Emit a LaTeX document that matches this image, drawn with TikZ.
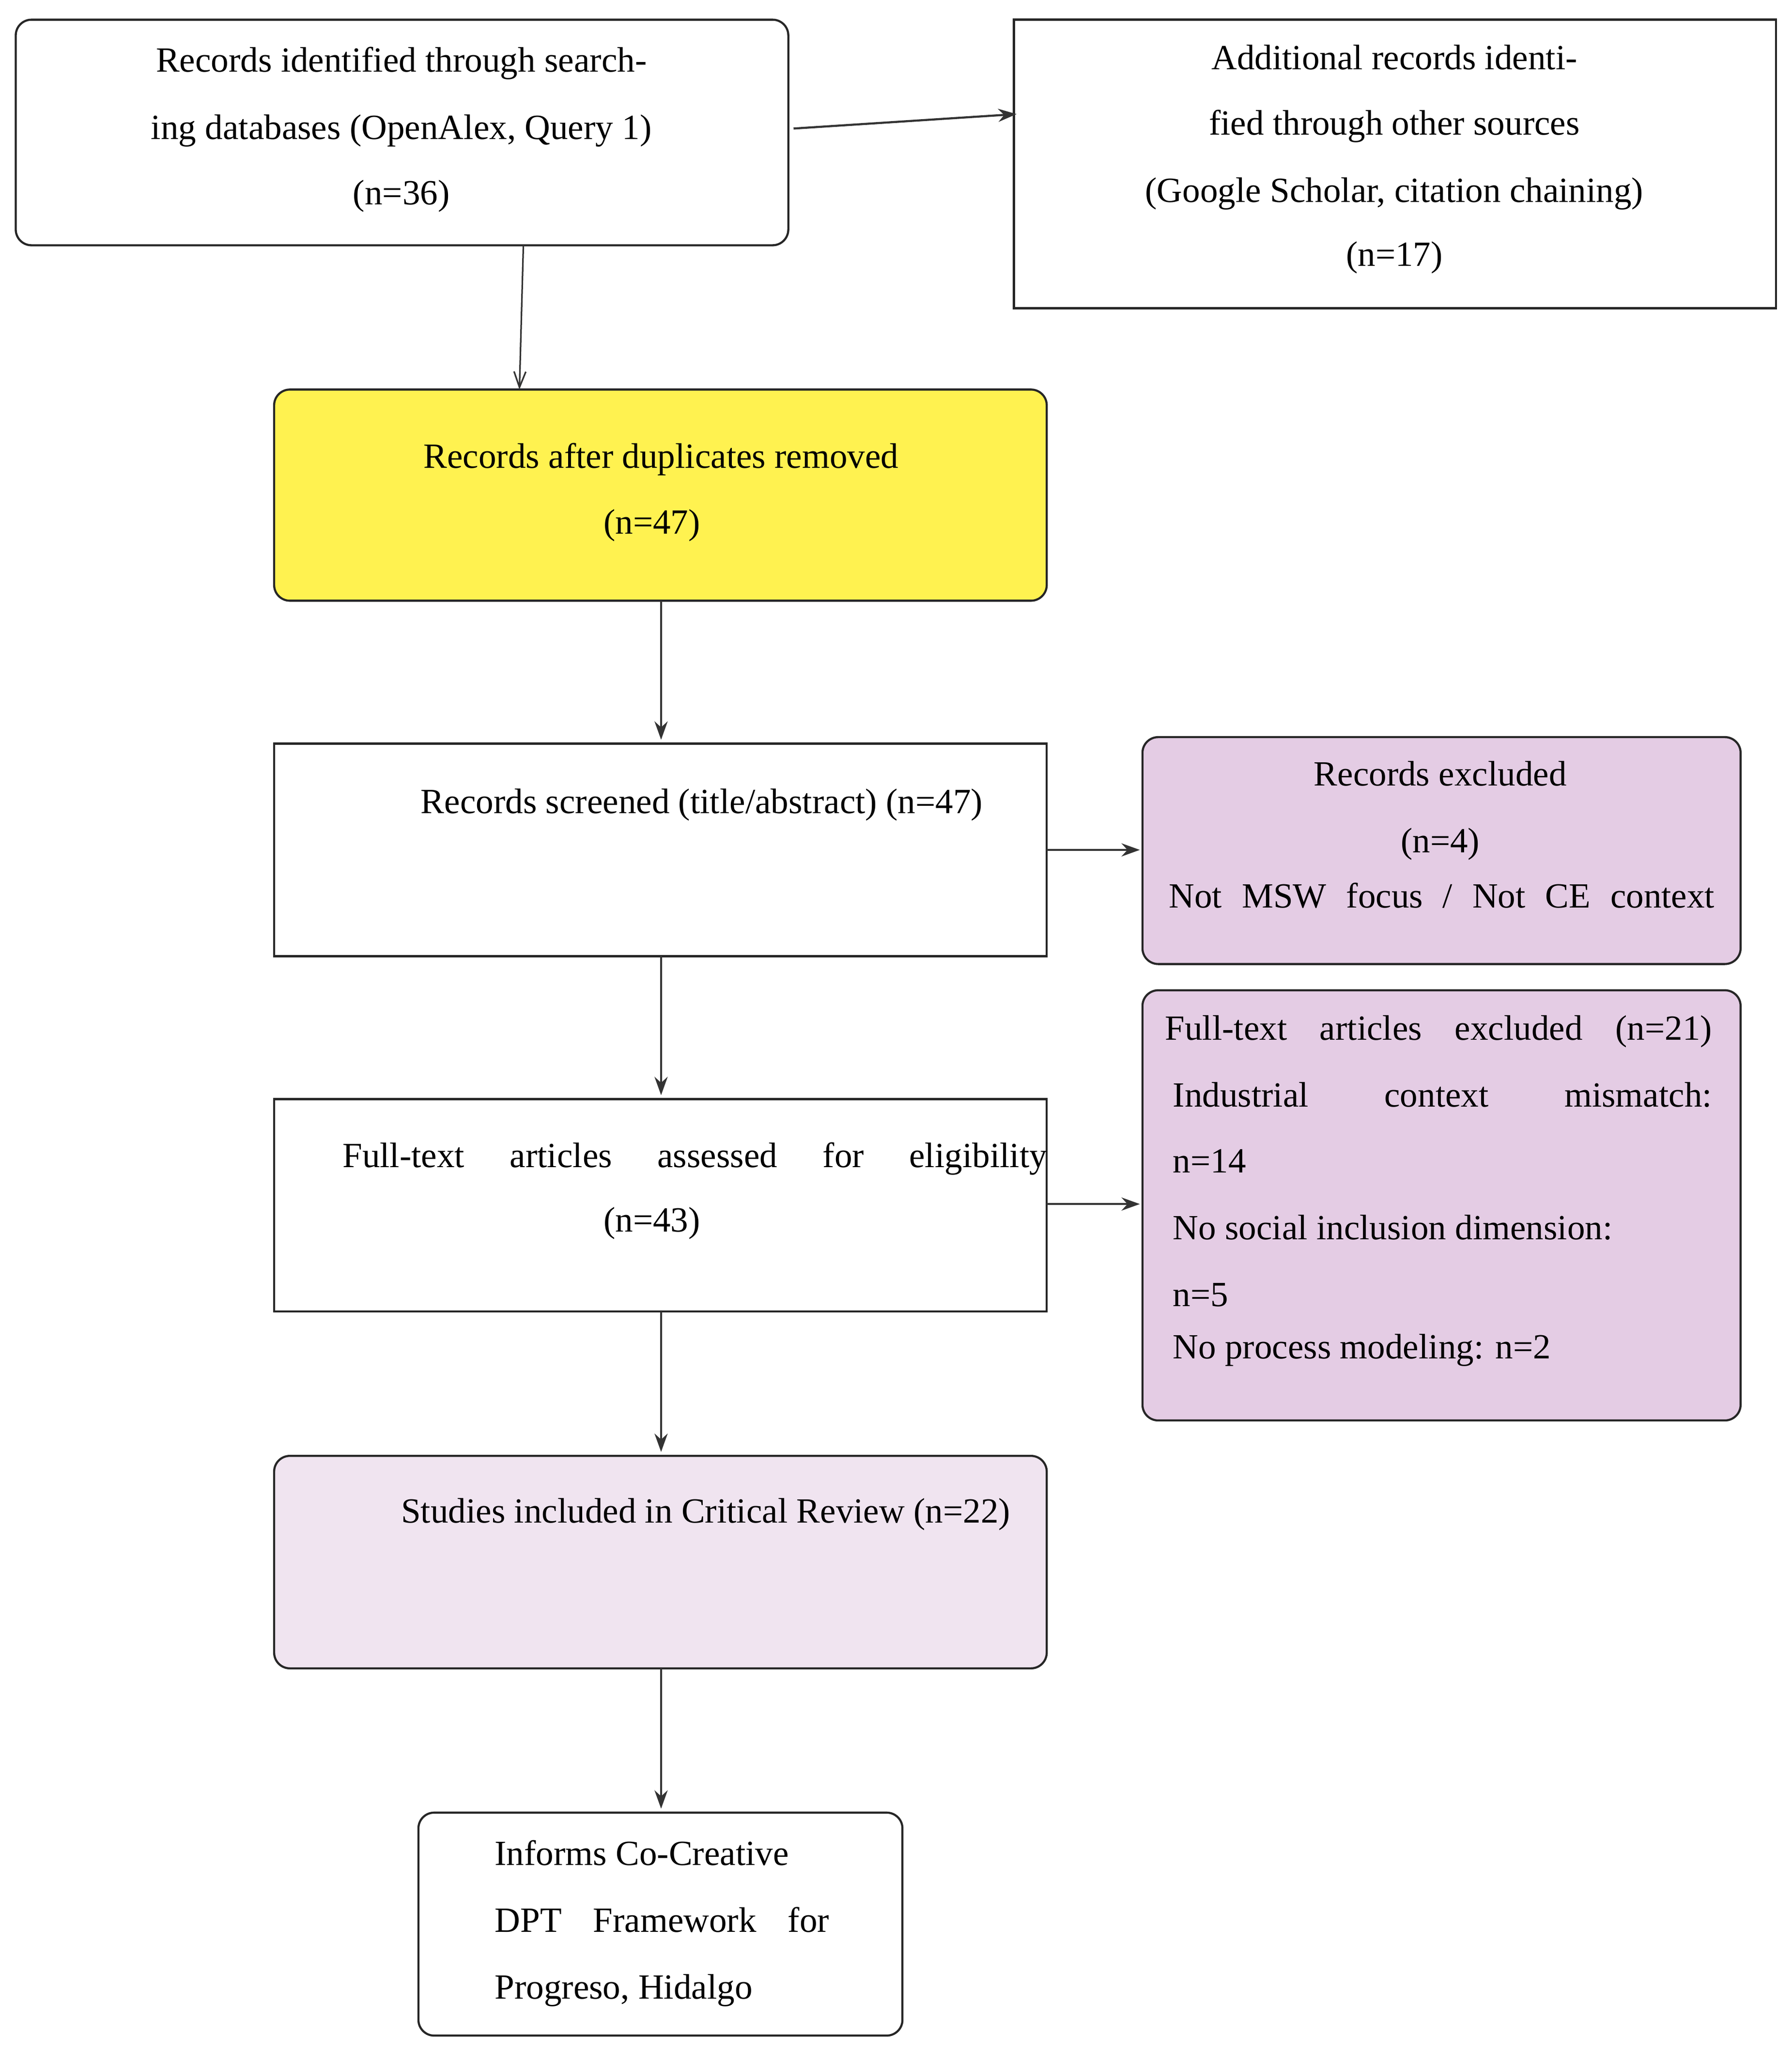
\documentclass[tikz,border=0pt]{standalone}
\usepackage{fontspec}
\setmainfont{Liberation Serif}
\usetikzlibrary{arrows.meta}
\definecolor{yel}{HTML}{FFF250}
\definecolor{pur}{HTML}{E4CCE4}
\definecolor{lpur}{HTML}{F0E4F0}
\tikzset{
 box/.style={draw=black!85,line width=1.6pt},
 rbox/.style={box,rounded corners=12pt},
 txt/.style={inner sep=0pt,font=\fontsize{27}{30}\selectfont,anchor=base},
 ltxt/.style={txt,anchor=base west},
 arr/.style={line width=1.6pt,draw=black!80,-{Stealth[length=14pt,width=10pt]}},
 oarr/.style={line width=1.2pt,draw=black!80,-{Straight Barb[length=12pt,width=9pt]}}
}
\begin{document}
\begin{tikzpicture}[x=1pt,y=-1pt]
\useasboundingbox (0,0) rectangle (1366,1563);
\draw[rbox] (12,15) rectangle (601,187); \coordinate (A) at (306,101);
\draw[box] (773,15) rectangle (1354,235);
\draw[rbox,fill=yel] (209,297) rectangle (798,458);
\draw[box] (209,567) rectangle (798,729);
\draw[rbox,fill=pur] (871,562) rectangle (1327,735);
\draw[box] (209,838) rectangle (798,1000);
\draw[rbox,fill=pur] (871,755) rectangle (1327,1083);
\draw[rbox,fill=lpur] (209,1110) rectangle (798,1272);
\draw[rbox] (319,1382) rectangle (688,1552);

\node[txt] (a1) at (306,55) {Records identified through search-};
\node[txt] (a2) at (306,106) {ing databases (OpenAlex, Query 1)};
\node[txt] (a3) at (306,156) {(n=36)};
\node[txt] (b1) at (1063,53) {Additional records identi-};
\node[txt] (b2) at (1063,103) {fied through other sources};
\node[txt] (b3) at (1063,154) {(Google Scholar, citation chaining)};
\node[txt] (b4) at (1063,203) {(n=17)};
\node[txt] (c1) at (504,357) {Records after duplicates removed};
\node[txt] (c2) at (497,407) {(n=47)};
\node[txt] (d1) at (535,620) {Records screened (title/abstract) (n=47)};
\node[txt] (e1) at (1098,599) {Records excluded};
\node[txt] (e2) at (1098,650) {(n=4)};
\node[ltxt] (e3) at (891,692) {\makebox[416pt][s]{Not MSW focus / Not CE context}};
\node[ltxt] (f1) at (261,890) {\makebox[537pt][s]{Full-text articles assessed for eligibility}};
\node[txt] (f2) at (497,939) {(n=43)};
\node[ltxt] (g1) at (888,793) {\makebox[417pt][s]{Full-text articles excluded (n=21)}};
\node[ltxt] (g2) at (894,844) {\makebox[411pt][s]{Industrial context mismatch:}};
\node[ltxt] (g3) at (894,894) {n=14};
\node[ltxt] (g4) at (894,945) {No social inclusion dimension:};
\node[ltxt] (g5) at (894,996) {n=5};
\node[ltxt] (g6) at (894,1036) {No process modeling: n=2};
\node[txt] (h1) at (538,1161) {Studies included in Critical Review (n=22)};
\node[ltxt] (i1) at (377,1422) {Informs Co-Creative};
\node[ltxt] (i2) at (377,1473) {\makebox[255pt][s]{DPT Framework for}};
\node[ltxt] (i3) at (377,1524) {Progreso, Hidalgo};

\coordinate (p1) at (605,98); \coordinate (p2) at (775,87);
\draw[arr] (p1) -- (p2);
\coordinate (q1) at (399,187); \coordinate (q2) at (396,297);
\draw[oarr] (q1) -- (q2);
\coordinate (r1) at (504,458); \coordinate (r2) at (504,564);
\draw[arr] (r1) -- (r2);
\coordinate (s1) at (798,648); \coordinate (s2) at (869,648);
\draw[arr] (s1) -- (s2);
\coordinate (t1) at (504,729); \coordinate (t2) at (504,835);
\draw[arr] (t1) -- (t2);
\coordinate (u1) at (798,918); \coordinate (u2) at (869,918);
\draw[arr] (u1) -- (u2);
\coordinate (v1) at (504,1000); \coordinate (v2) at (504,1107);
\draw[arr] (v1) -- (v2);
\coordinate (w1) at (504,1272); \coordinate (w2) at (504,1379);
\draw[arr] (w1) -- (w2);
\end{tikzpicture}
\end{document}
